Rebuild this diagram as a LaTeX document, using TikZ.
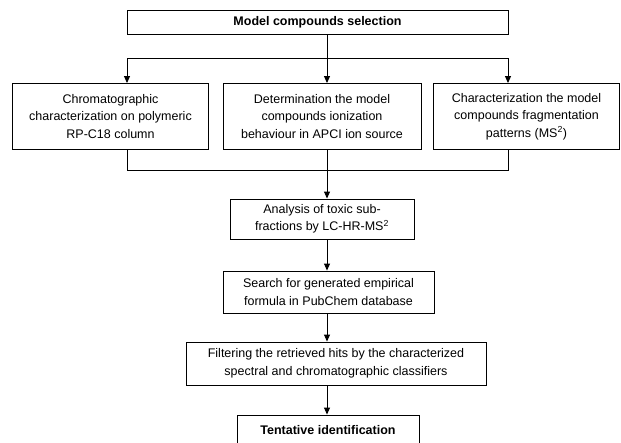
\documentclass[tikz,border=0pt]{standalone}
\usepackage{fontspec}
\setmainfont{Liberation Sans}
\usetikzlibrary{positioning, arrows.meta, calc}

\begin{document}
\begin{tikzpicture}[x=1pt, y=-1pt, >={Triangle[length=7pt,width=6pt]},
    box/.style={draw, line width=0.9pt, align=center, inner sep=2pt,
      font=\fontsize{12.5}{17.5}\selectfont},
    link/.style={line width=0.9pt}]
  \useasboundingbox (0,0) rectangle (621,442);
  % boxes
  \node[box, minimum width=381pt, minimum height=24pt] (sel) at (317.5,22)
    {\textbf{Model compounds selection}};
  \node[box, minimum width=196pt, minimum height=66pt] (chrom) at (110.5,116.5)
    {Chromatographic\\characterization on polymeric\\RP-C18 column};
  \node[box, minimum width=198pt, minimum height=66pt] (ioniz) at (322,116.5)
    {Determination the model\\compounds ionization\\behaviour in APCI ion source};
  \node[box, minimum width=186pt, minimum height=66pt] (frag) at (526.5,116.5)
    {Characterization the model\\compounds fragmentation\\patterns (MS\textsuperscript{2})};
  \node[box, minimum width=184pt, minimum height=40pt] (anal) at (322,219)
    {Analysis of toxic sub-\\fractions by LC-HR-MS\textsuperscript{2}};
  \node[box, minimum width=211pt, minimum height=42pt] (search) at (328.5,292)
    {Search for generated empirical\\formula in PubChem database};
  \node[box, minimum width=300pt, minimum height=43pt] (filt) at (336,363.5)
    {Filtering the retrieved hits by the characterized\\spectral and chromatographic classifiers};
  \node[box, minimum width=182pt, minimum height=30pt] (tent) at (328,430)
    {\textbf{Tentative identification}};

  % bus lines
  \coordinate (spine) at (327,0);
  \coordinate (busL) at (127,58);
  \coordinate (busR) at (508,58);
  \coordinate (join) at (327,170);

  \draw[link] (sel.south -| spine) -- (spine |- busL);
  \draw[link] (busL) -- (busR);
  \draw[link,->] (busL) -- (busL |- chrom.north);
  \draw[link,->] (spine |- busL) -- (spine |- ioniz.north);
  \draw[link,->] (busR) -- (busR |- frag.north);
  \draw[link] (chrom.south -| busL) -- (busL |- join) -- (busR |- join) -- (frag.south -| busR);
  \draw[link] (ioniz.south -| spine) -- (join);
  \draw[link,->] (join) -- (anal.north -| spine);
  \draw[link,->] (anal.south -| spine) -- (search.north -| spine);
  \draw[link,->] (search.south -| spine) -- (filt.north -| spine);
  \draw[link,->] (filt.south -| spine) -- (tent.north -| spine);
\end{tikzpicture}
\end{document}
